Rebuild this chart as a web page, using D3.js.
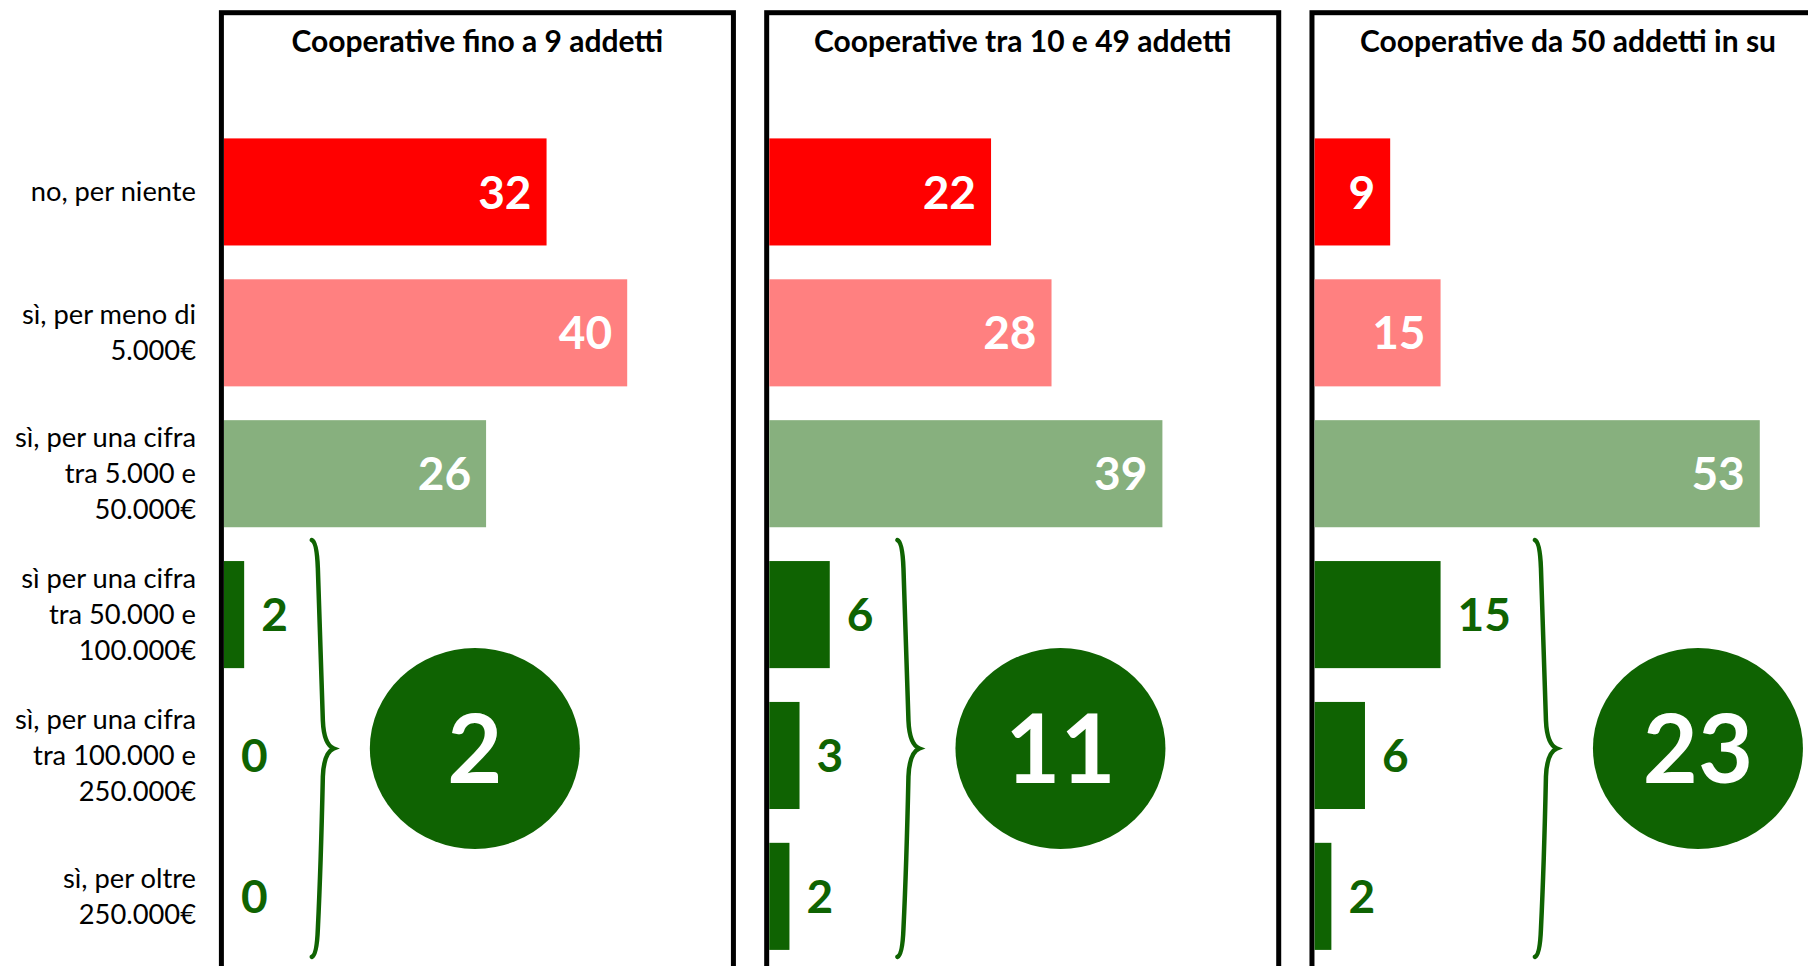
<!DOCTYPE html>
<html>
<head>
<meta charset="utf-8">
<script src="https://d3js.org/d3.v7.min.js"></script>
<style>
  * { margin: 0; padding: 0; box-sizing: border-box; }
  html, body { width: 1808px; height: 966px; overflow: hidden; background: #ffffff; }
  body { font-family: Lato, 'Open Sans', sans-serif; }
  svg { display: block; }
</style>
</head>
<body>
<div id="chart"></div>
<script>
// categories (one entry per bar, lines of the label)
const categories = [
  ['no, per niente'],
  ['sì, per meno di', '5.000€'],
  ['sì, per una cifra', 'tra 5.000 e', '50.000€'],
  ['sì per una cifra', 'tra 50.000 e', '100.000€'],
  ['sì, per una cifra', 'tra 100.000 e', '250.000€'],
  ['sì, per oltre', '250.000€']
];
const panelTitles = [
  'Cooperative fino a 9 addetti',
  'Cooperative tra 10 e 49 addetti',
  'Cooperative da 50 addetti in su'
];
const valuesSmall = [32, 40, 26, 2, 0, 0];
const valuesMedium = [22, 28, 39, 6, 3, 2];
const valuesLarge = [9, 15, 53, 15, 6, 2];
const circleTotals = [2, 11, 23];
const axisMax = [50, 50, 60];
const barColors = ['#ff0000', '#ff8080', '#87b07e', '#0f6302', '#0f6302', '#0f6302'];

const series = [valuesSmall, valuesMedium, valuesLarge];
const darkGreen = '#0f6302';

const width = 1808, height = 966;
const svg = d3.select('#chart').append('svg')
  .attr('width', width).attr('height', height);

const panelX = d3.scaleBand()
  .domain(d3.range(series.length))
  .range([221.4, 1824])
  .paddingInner(0.061)
  .paddingOuter(0);

const y = d3.scaleBand()
  .domain(d3.range(categories.length))
  .range([121.5, 966.8])
  .paddingInner(0.24)
  .paddingOuter(0.12);

// category labels on the left
const catG = svg.append('g').attr('class', 'categories');
categories.forEach((lines, i) => {
  const cy = y(i) + y.bandwidth() / 2;
  const lh = 36;
  const t = catG.append('text')
    .attr('text-anchor', 'end')
    .attr('font-size', 27.3)
    .attr('fill', '#000');
  lines.forEach((ln, k) => {
    t.append('tspan')
      .attr('x', 196)
      .attr('y', cy + (k - (lines.length - 1) / 2) * lh)
      .attr('dy', '0.35em')
      .text(ln);
  });
});

series.forEach((vals, p) => {
  const left = panelX(p);
  const g = svg.append('g').attr('class', 'panel');

  const x = d3.scaleLinear()
    .domain([0, axisMax[p]])
    .range([left + 2.6, left + 2.6 + 504]);

  // frame
  g.append('rect')
    .attr('x', left)
    .attr('y', 12.7)
    .attr('width', panelX.bandwidth())
    .attr('height', 1000)
    .attr('fill', 'none')
    .attr('stroke', '#000')
    .attr('stroke-width', 5);

  g.append('text')
    .attr('x', left + panelX.bandwidth() / 2)
    .attr('y', 52)
    .attr('text-anchor', 'middle')
    .attr('font-size', 30)
    .attr('font-weight', 700)
    .text(panelTitles[p]);

  g.selectAll('rect.bar')
    .data(vals)
    .join('rect')
    .attr('class', 'bar')
    .attr('x', x(0))
    .attr('y', (d, i) => y(i))
    .attr('width', d => x(d) - x(0))
    .attr('height', y.bandwidth())
    .attr('fill', (d, i) => barColors[i]);

  // value labels: inside for the first three, outside for the rest
  const labels = g.selectAll('text.val')
    .data(vals)
    .join('text')
    .attr('class', 'val')
    .attr('font-size', 46)
    .attr('font-weight', 700)
    .attr('dy', '0.36em')
    .attr('y', (d, i) => y(i) + y.bandwidth() / 2)
    .attr('x', (d, i) => i < 3 ? x(d) - 15 : x(d) + 17)
    .attr('text-anchor', (d, i) => i < 3 ? 'end' : 'start')
    .attr('fill', (d, i) => i < 3 ? '#fff' : darkGreen)
    .text(d => d);

  // brace placed after the widest outside label
  let labelEnd = 0;
  labels.each(function(d, i) {
    if (i >= 3) {
      labelEnd = Math.max(labelEnd, x(d) + 17 + this.getComputedTextLength());
    }
  });
  const x0 = labelEnd + 24;
  const top = y(3) - 21;
  const bottom = y(5) + y.bandwidth() + 7;
  const mid = (top + bottom) / 2;
  const r = 28;
  const bp = d3.path();
  bp.moveTo(x0, top);
  bp.quadraticCurveTo(x0 + 5, top + 2, x0 + 6, top + r);
  bp.quadraticCurveTo(x0 + 9, mid - 90, x0 + 11, mid - r);
  bp.quadraticCurveTo(x0 + 12, mid - 4, x0 + 22, mid);
  bp.quadraticCurveTo(x0 + 12, mid + 4, x0 + 11, mid + r);
  bp.quadraticCurveTo(x0 + 9, bottom - 90, x0 + 6, bottom - r);
  bp.quadraticCurveTo(x0 + 5, bottom - 2, x0, bottom);
  g.append('path')
    .attr('d', bp.toString())
    .attr('fill', 'none')
    .attr('stroke', darkGreen)
    .attr('stroke-width', 4.5)
    .attr('stroke-linecap', 'round');

  // total circle
  const rx = 105, ry = 100.5;
  const cx = x0 + 22 + 36 + rx;
  g.append('ellipse')
    .attr('cx', cx)
    .attr('cy', mid)
    .attr('rx', rx)
    .attr('ry', ry)
    .attr('fill', darkGreen);
  g.append('text')
    .attr('x', cx)
    .attr('y', mid)
    .attr('dy', '0.36em')
    .attr('text-anchor', 'middle')
    .attr('font-size', 95)
    .attr('font-weight', 700)
    .attr('fill', '#fff')
    .text(circleTotals[p]);
});
</script>
</body>
</html>
